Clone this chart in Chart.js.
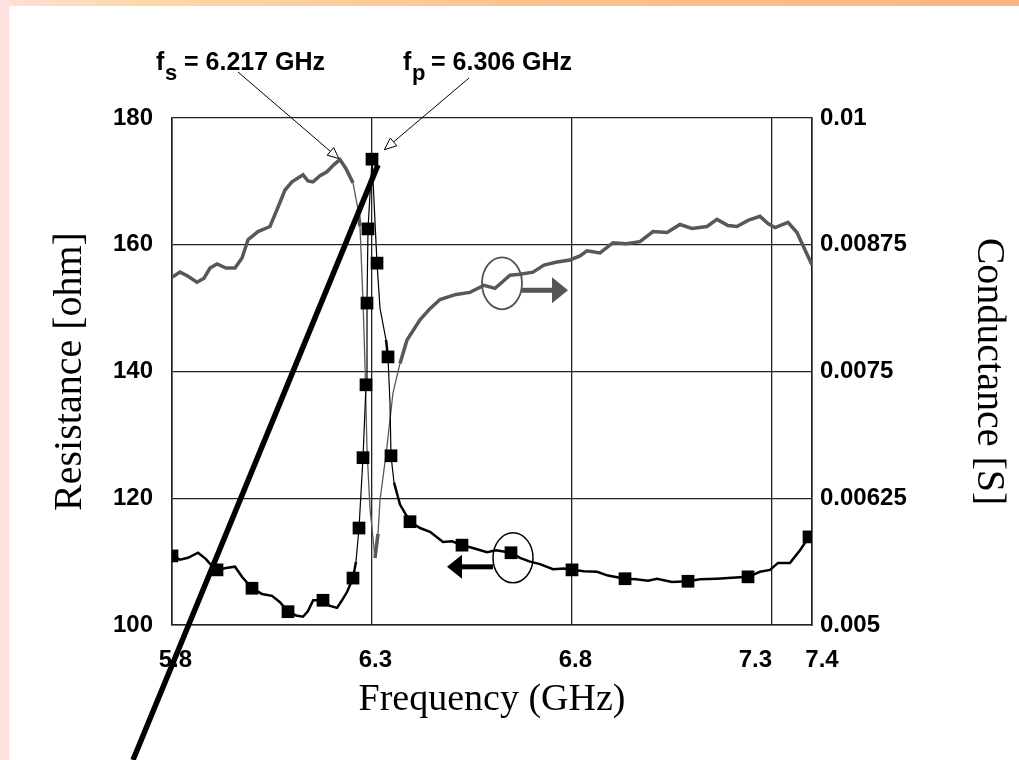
<!DOCTYPE html>
<html>
<head>
<meta charset="utf-8">
<title>Resistance and conductance vs frequency</title>
<script src="https://cdn.jsdelivr.net/npm/chart.js@4.4.1/dist/chart.umd.min.js"></script>
<style>
  html, body { margin: 0; padding: 0; background: #fff; overflow: hidden; }
  #page { position: relative; width: 1019px; height: 760px; background: #fff; }
  #top-band {
    position: absolute; left: 0; top: 0; width: 1019px; height: 6px;
    background: linear-gradient(to right, #fde0dc 0%, #fcd8a8 14%, #fcc391 50%, #fcb484 100%);
  }
  #left-band { position: absolute; left: 0; top: 0; width: 9px; height: 760px; background: #fde1de; }
  #chart { position: absolute; left: 0; top: 0; }
</style>
</head>
<body>
<div id="page">
  <div id="top-band"></div>
  <div id="left-band"></div>
  <canvas id="chart" width="1019" height="760"></canvas>
</div>
<script>
  // Resistance trace (GHz, ohm)
  const resFreq = [5.80, 5.82, 5.84, 5.865, 5.885, 5.90, 5.9125, 5.935, 5.9575, 5.975, 6.00, 6.025, 6.05, 6.07, 6.09,
    6.11, 6.1275, 6.14, 6.153, 6.1775, 6.195, 6.2125, 6.225, 6.2375, 6.2525, 6.26, 6.2675, 6.2775, 6.285, 6.2875,
    6.29, 6.30, 6.3125, 6.32, 6.335, 6.34, 6.345, 6.3475, 6.355, 6.37, 6.395, 6.42, 6.445, 6.4775, 6.50, 6.525,
    6.55, 6.5875, 6.61, 6.6475, 6.67, 6.695, 6.72, 6.7525, 6.78, 6.80, 6.83, 6.8625, 6.89, 6.9325, 6.96, 6.99,
    7.0125, 7.05, 7.09, 7.12, 7.1625, 7.19, 7.24, 7.27, 7.295, 7.315, 7.345, 7.37, 7.3925];
  const resOhm = [110.9, 110.3, 110.6, 111.4, 110.4, 109.3, 108.7, 109.0, 109.2, 107.6, 105.8, 104.9, 104.6, 103.6, 102.1,
    101.5, 101.3, 102.2, 103.9, 103.9, 103.0, 102.7, 103.9, 105.2, 107.4, 110.0, 115.3, 126.4, 137.9, 150.8,
    162.5, 173.5, 157.1, 150.0, 145.0, 142.3, 135.0, 126.7, 122.5, 119.0, 116.3, 115.3, 114.7, 113.1, 113.2, 112.6,
    112.2, 111.5, 111.8, 111.4, 110.6, 110.0, 109.6, 108.8, 108.9, 108.7, 108.5, 108.4, 107.8, 107.3, 107.2, 107.0,
    107.3, 106.8, 106.9, 107.2, 107.3, 107.4, 107.6, 108.4, 108.7, 109.8, 109.8, 111.8, 113.9];

  // Square markers on the resistance trace
  const markerFreq = [5.80, 5.9125, 6.00, 6.09, 6.1775, 6.2525, 6.2675, 6.2775, 6.285, 6.2875, 6.29, 6.30,
    6.3125, 6.34, 6.3475, 6.395, 6.525, 6.6475, 6.80, 6.9325, 7.09, 7.24, 7.3925];
  const markerOhm = [110.9, 108.7, 105.8, 102.1, 103.9, 107.4, 115.3, 126.4, 137.9, 150.8, 162.5, 173.5,
    157.1, 142.3, 126.7, 116.3, 112.6, 111.4, 108.7, 107.3, 106.9, 107.6, 113.9];

  // Conductance trace (GHz, S)
  const condFreq = [5.80, 5.82, 5.84, 5.8625, 5.88, 5.895, 5.9125, 5.935, 5.9575, 5.975, 5.99, 6.015, 6.045,
    6.065, 6.0825, 6.10, 6.1275, 6.14, 6.1525, 6.17, 6.1875, 6.205, 6.22, 6.235, 6.2525, 6.265, 6.27, 6.2775,
    6.283, 6.2875, 6.295, 6.3075, 6.315, 6.32, 6.3375, 6.3525, 6.37, 6.3875, 6.42, 6.445, 6.47, 6.51, 6.545,
    6.58, 6.6075, 6.625, 6.645, 6.67, 6.7025, 6.73, 6.7625, 6.795, 6.82, 6.8375, 6.87, 6.9025, 6.935, 6.97,
    7.0025, 7.0375, 7.07, 7.10, 7.1375, 7.1625, 7.19, 7.2125, 7.24, 7.27, 7.29, 7.3075, 7.34, 7.3625, 7.38, 7.40];
  const condSiemens = [0.00843, 0.00848, 0.00844, 0.00838, 0.00842, 0.00852, 0.00856, 0.00852, 0.00852, 0.00862,
    0.00880, 0.00888, 0.00893, 0.00912, 0.00929, 0.00937, 0.00944, 0.00938, 0.00937, 0.00943, 0.00947, 0.00954,
    0.00959, 0.00950, 0.00936, 0.00910, 0.00893, 0.00820, 0.00750, 0.00673, 0.00615, 0.00566, 0.00590, 0.00623,
    0.00676, 0.00729, 0.00758, 0.00781, 0.00801, 0.00812, 0.00821, 0.00826, 0.00828, 0.00835, 0.00832, 0.00838,
    0.00845, 0.00846, 0.00848, 0.00855, 0.00858, 0.00860, 0.00864, 0.00869, 0.00867, 0.00877, 0.00876, 0.00878,
    0.00888, 0.00887, 0.00895, 0.00891, 0.00893, 0.00900, 0.00894, 0.00893, 0.00899, 0.00903, 0.00896, 0.00892,
    0.00897, 0.00887, 0.00872, 0.00855];

  // Axis ticks
  const freqTicks = [5.8, 6.3, 6.8, 7.3, 7.4];
  const freqTickLabels = ['5.8', '6.3', '6.8', '7.3', '7.4'];
  const resTicks = [100, 120, 140, 160, 180];
  const condTicks = [0.005, 0.00625, 0.0075, 0.00875, 0.01];
  const condTickLabels = ['0.005', '0.00625', '0.0075', '0.00875', '0.01'];

  // Series and parallel resonance
  const fSeries = 6.217;
  const fParallel = 6.306;

  Chart.defaults.font.family = 'Liberation Sans';
  const tickFont = { family: 'Liberation Sans', size: 24, weight: 'bold' };
  const titleFont = { family: 'Liberation Serif', size: 40, weight: 'normal' };
  const gridColor = '#222';

  // spaces nudge the crowded 7.3 / 7.4 labels apart like the original
  const freqLabelPad = [[' ', ''], [' ', ''], [' ', ''], ['', '     '], ['   ', '']];

  const toPoints = (xs, ys) => xs.map((x, i) => ({ x: x, y: ys[i] }));
  // steep parts of the traces are drawn hairline thin
  const steep = (normal, thin) => (c) => Math.abs(c.p1.y - c.p0.y) > 25 ? thin : normal;

  function arrowHead(c, x0, y0, x1, y1, len, half) {
    const a = Math.atan2(y1 - y0, x1 - x0);
    c.beginPath();
    c.moveTo(x1, y1);
    c.lineTo(x1 - len * Math.cos(a) + half * Math.sin(a), y1 - len * Math.sin(a) - half * Math.cos(a));
    c.lineTo(x1 - len * Math.cos(a) - half * Math.sin(a), y1 - len * Math.sin(a) + half * Math.cos(a));
    c.closePath();
    c.fillStyle = '#fff';
    c.fill();
    c.lineWidth = 1;
    c.strokeStyle = '#000';
    c.stroke();
  }

  function blockArrow(c, x0, tip, y, headLen, headHalf, shaft, color) {
    const dir = Math.sign(tip - x0);
    const back = tip - dir * headLen;
    c.fillStyle = color;
    c.fillRect(Math.min(x0, back), y - shaft / 2, Math.abs(back - x0), shaft);
    c.beginPath();
    c.moveTo(tip, y);
    c.lineTo(back, y - headHalf);
    c.lineTo(back, y + headHalf);
    c.closePath();
    c.fill();
  }

  function freqLabel(c, x, y, sub, value) {
    c.fillStyle = '#000';
    c.textBaseline = 'alphabetic';
    c.textAlign = 'left';
    c.font = 'bold 25px "Liberation Sans"';
    c.fillText('f', x, y);
    c.font = 'bold 22px "Liberation Sans"';
    c.fillText(sub, x + 9, y + 10);
    c.font = 'bold 25px "Liberation Sans"';
    c.fillText('= ' + value.toFixed(3) + ' GHz', x + 28, y);
  }

  const slideAnnotations = {
    id: 'slideAnnotations',
    afterDraw(chart) {
      const c = chart.ctx;
      const xs = chart.scales.x;
      const rs = chart.scales.y;
      const gs = chart.scales.y1;
      c.save();

      // resonance labels with leader lines
      freqLabel(c, 156, 70, 's', fSeries);
      freqLabel(c, 403, 70, 'p', fParallel);
      c.strokeStyle = '#000';
      c.lineWidth = 1;
      const sx = xs.getPixelForValue(fSeries);
      const sy = gs.getPixelForValue(0.0096);
      c.beginPath(); c.moveTo(238, 72); c.lineTo(sx, sy); c.stroke();
      arrowHead(c, 238, 72, sx, sy, 11, 5);
      const px = xs.getPixelForValue(fParallel) + 10;
      const py = rs.getPixelForValue(175);
      c.beginPath(); c.moveTo(469, 78); c.lineTo(px, py); c.stroke();
      arrowHead(c, 469, 78, px, py, 12, 5);

      // conductance circle and arrow to the right axis
      const gcx = xs.getPixelForValue(6.625);
      const gcy = gs.getPixelForValue(0.00837);
      c.strokeStyle = '#555';
      c.lineWidth = 1.8;
      c.beginPath(); c.ellipse(gcx, gcy, 20, 26, 0, 0, Math.PI * 2); c.stroke();
      blockArrow(c, gcx + 20, gcx + 66, gcy + 7, 16, 13, 5, '#555');

      // resistance circle and arrow to the left axis
      const rcx = xs.getPixelForValue(6.6525);
      const rcy = rs.getPixelForValue(110.6);
      c.strokeStyle = '#000';
      c.lineWidth = 1.5;
      c.beginPath(); c.ellipse(rcx, rcy, 20, 25, 0, 0, Math.PI * 2); c.stroke();
      blockArrow(c, rcx - 20, rcx - 66, rcy + 9, 15, 12, 5, '#000');

      // thick pointer stroke crossing the slide
      c.strokeStyle = '#000';
      c.lineWidth = 5.5;
      c.beginPath();
      c.moveTo(xs.getPixelForValue(6.315), rs.getPixelForValue(172.6));
      c.lineTo(xs.getPixelForValue(5.7025), rs.getPixelForValue(78.7));
      c.stroke();

      c.restore();
    }
  };

  const ctx = document.getElementById('chart').getContext('2d');
  const chart = new Chart(ctx, {
    type: 'line',
    data: {
      datasets: [
        {
          label: 'Resistance markers',
          data: toPoints(markerFreq, markerOhm),
          yAxisID: 'y',
          showLine: false,
          pointStyle: 'rect',
          pointRadius: 9,
          pointBorderWidth: 0,
          pointBackgroundColor: '#000',
          pointBorderColor: '#000',
          order: 0,
        },
        {
          label: 'Resistance [ohm]',
          data: toPoints(resFreq, resOhm),
          yAxisID: 'y',
          borderColor: '#000',
          borderWidth: 2.5,
          pointRadius: 0,
          tension: 0,
          segment: { borderWidth: steep(2.5, 1.2) },
          order: 1,
        },
        {
          label: 'Conductance [S]',
          data: toPoints(condFreq, condSiemens),
          yAxisID: 'y1',
          borderColor: '#585858',
          borderWidth: 3.5,
          pointRadius: 0,
          tension: 0,
          segment: { borderWidth: steep(3.5, 1.3) },
          order: 2,
        },
      ],
    },
    options: {
      responsive: false,
      devicePixelRatio: 1,
      animation: false,
      events: [],
      layout: { padding: { top: 118, left: 0, right: 0, bottom: 0 } },
      plugins: { legend: { display: false }, tooltip: { enabled: false } },
      scales: {
        x: {
          type: 'linear',
          position: 'bottom',
          min: 5.8,
          max: 7.4,
          afterBuildTicks: (axis) => { axis.ticks = freqTicks.map((v) => ({ value: v })); },
          afterFit: (axis) => { axis.height = 135; },
          grid: { color: gridColor, lineWidth: 1.3, drawTicks: false },
          border: { color: gridColor, width: 1.6 },
          ticks: {
            autoSkip: false,
            maxRotation: 0,
            minRotation: 0,
            padding: 21,
            color: '#000',
            font: tickFont,
            callback: (v, i) => freqLabelPad[i][0] + freqTickLabels[i] + freqLabelPad[i][1],
          },
          title: { display: true, text: 'Frequency (GHz)', color: '#000', font: { family: 'Liberation Serif', size: 38 }, padding: { top: 0, bottom: 37 } },
        },
        y: {
          position: 'left',
          min: 100,
          max: 180,
          afterBuildTicks: (axis) => { axis.ticks = resTicks.map((v) => ({ value: v })); },
          afterFit: (axis) => { axis.width = 172; },
          grid: { color: gridColor, lineWidth: 1.3, drawTicks: false },
          border: { color: gridColor, width: 1.6 },
          ticks: { padding: 19, color: '#000', font: tickFont },
          title: { display: true, text: 'Resistance [ohm]', color: '#000', font: titleFont, padding: { top: 46, bottom: 0 } },
        },
        y1: {
          position: 'right',
          min: 0.005,
          max: 0.01,
          afterBuildTicks: (axis) => { axis.ticks = condTicks.map((v) => ({ value: v })); },
          afterFit: (axis) => { axis.width = 207; },
          grid: { drawOnChartArea: false, drawTicks: false },
          border: { color: gridColor, width: 1.6 },
          ticks: { padding: 8, color: '#000', font: tickFont, callback: (v, i) => condTickLabels[i] },
          title: { display: true, text: 'Conductance [S]', color: '#000', font: titleFont, padding: { top: 7, bottom: 0 } },
        },
      },
    },
    plugins: [slideAnnotations],
  });
</script>
</body>
</html>
